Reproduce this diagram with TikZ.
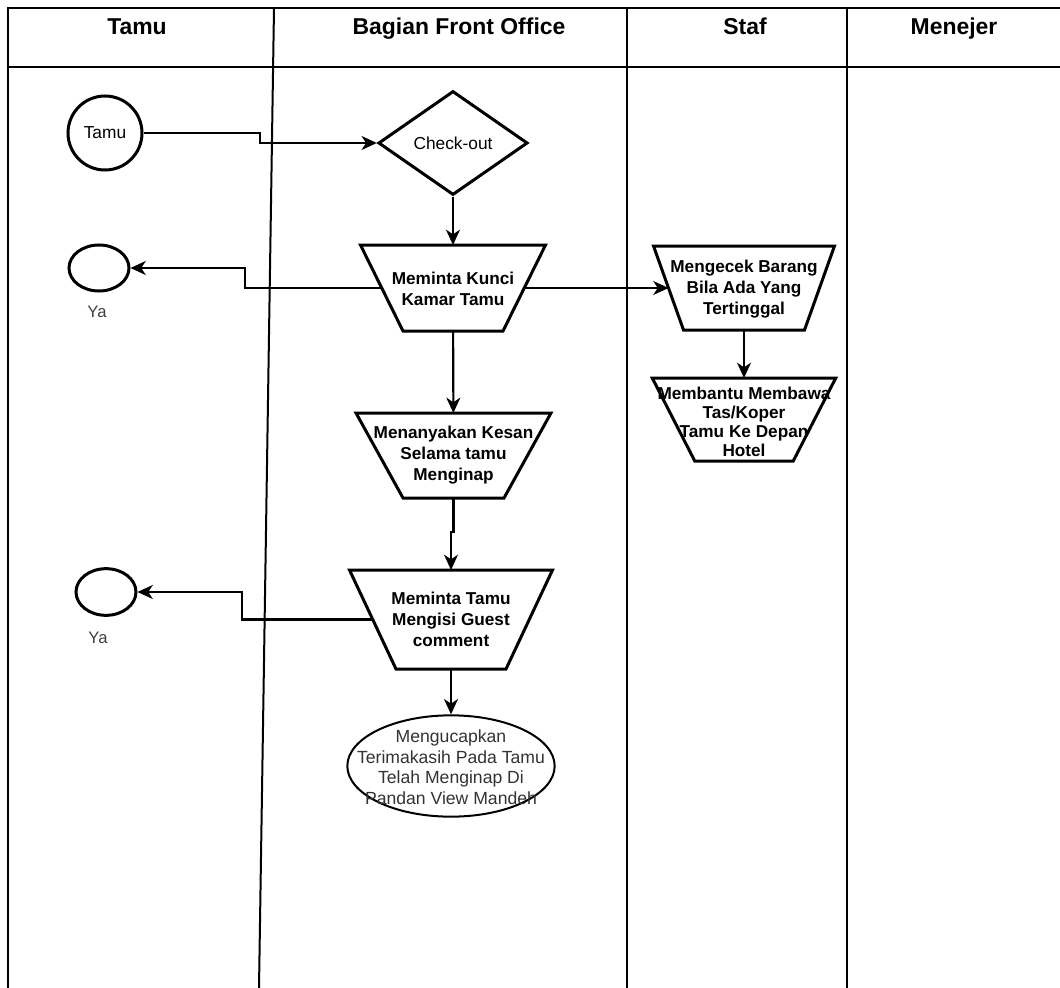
\documentclass[tikz,border=0pt]{standalone}
\usepackage{fontspec}
\setmainfont{Liberation Sans}
\usetikzlibrary{shapes.geometric,arrows.meta,calc}
% outline of an inverted trapezoid around node #1: the node box has the
% mid-height width, the top edge sticks out by #2 and the bottom edge is
% pulled in by #2 on each side
\newcommand\trapdraw[2]{%
  \draw[line width=2.25pt,line join=miter]
    ($(#1.north west)+(-#2,0)$) -- ($(#1.north east)+(#2,0)$) --
    ($(#1.south east)+(-#2,0)$) -- ($(#1.south west)+(#2,0)$) -- cycle;}
\begin{document}
\begin{tikzpicture}[x=0.75pt,y=-0.75pt,
  lane/.style={line width=1.5pt},
  arr/.style={line width=1.6pt,-{Stealth[length=11.5pt,width=10.5pt,inset=3.5pt]}},
  shp/.style={draw,line width=2.25pt,inner sep=0pt},
  trap/.style={rectangle,inner sep=0pt,outer sep=0pt},
  head/.style={font=\fontsize{17.2pt}{20pt}\selectfont\bfseries,inner sep=0pt,anchor=base},
  txtb/.style={font=\fontsize{12.9pt}{15.75pt}\selectfont\bfseries,align=center,inner sep=0pt},
  txt/.style={font=\fontsize{13pt}{15.6pt}\selectfont,align=center,inner sep=0pt},
  small/.style={font=\fontsize{12.5pt}{15pt}\selectfont,text=black!75,inner sep=0pt},
]
\fill[white] (0,0) rectangle (1060,988);
\useasboundingbox (0,0) rectangle (1060,988);

% swimlane frame
\draw[lane] (8,988) -- (8,8) -- (1060,8);
\draw[line width=2.2pt] (8,67) -- (1060,67);
\draw[lane] (274,8) -- (259,988);
\draw[lane] (627,8) -- (627,988);
\draw[lane] (847,8) -- (847,988);

% lane titles
\node[head] (h1) at (137,35) {Tamu};
\node[head] (h2) at (459,35) {Bagian Front Office};
\node[head] (h3) at (745,35) {Staf};
\node[head] (h4) at (954,35) {Menejer};

% guest lane
\node[shp,circle,minimum size=55.5pt] (tamu) at (105,133) {};
\node[txt] (tamu-t) at (tamu) {Tamu};
\node[shp,ellipse,minimum width=45pt,minimum height=34.5pt] (ya1) at (99,268) {};
\node[small] (ya1-t) at (97,312) {Ya};
\node[shp,ellipse,minimum width=45pt,minimum height=35pt] (ya2) at (106,592) {};
\node[small] (ya2-t) at (98,638) {Ya};

% front office lane
\node[shp,diamond,minimum width=112pt,minimum height=78pt] (chk) at (453,143) {};
\node[txt] (chk-t) at (chk) {Check-out};

\node[trap,minimum width=106.9pt,minimum height=64.5pt] (kunci) at (453,288) {};
\trapdraw{kunci}{21.25}
\node[txtb] (kunci-t) at (453,289) {Meminta Kunci\\Kamar Tamu};

\node[trap,minimum width=111pt,minimum height=63.75pt] (kesan) at (453.5,455.5) {};
\trapdraw{kesan}{23.5}
\node[txtb] (kesan-t) at (453.5,455) {Menanyakan Kesan\\Selama tamu\\Menginap};

\node[trap,minimum width=117.4pt,minimum height=74.25pt] (guest) at (451,619.5) {};
\trapdraw{guest}{23.25}
\node[txtb] (guest-t) at (451,619) {Meminta Tamu\\Mengisi Guest\\comment};

\node[draw,line width=1.5pt,ellipse,minimum width=155.5pt,minimum height=76pt,inner sep=0pt] (ucap) at (451,766) {};
\node[txt,font=\fontsize{13.2pt}{15.4pt}\selectfont,text=black!80] (ucap-t) at (451,767)
  {Mengucapkan\\Terimakasih Pada Tamu\\Telah Menginap Di\\Pandan View Mandeh};

% staff lane
\node[trap,minimum width=113.25pt,minimum height=63pt] (cek) at (744,288) {};
\trapdraw{cek}{15}
\node[txtb] (cek-t) at (744,289) {Mengecek Barang\\Bila Ada Yang\\Tertinggal};

\node[trap,minimum width=105.75pt,minimum height=62.25pt] (bantu) at (744,419.5) {};
\trapdraw{bantu}{21.25}
\node[txtb,font=\fontsize{12.9pt}{14.25pt}\selectfont\bfseries] (bantu-t) at (744,421.5)
  {Membantu Membawa\\Tas/Koper\\Tamu Ke Depan\\Hotel};

% bend points of the elbow connectors
\coordinate (b0) at (260,0);
\coordinate (b1) at (245,0);
\coordinate (b2) at (242,0);
\coordinate (j1) at (0,532);

% connectors
\draw[arr] (tamu) -- (tamu -| b0) -- (chk -| b0) -- (chk);
\draw[arr] (chk) -- (kunci);
\draw[arr] (kunci) -- (kunci -| b1) |- (ya1);
\draw[arr] (kunci) -- (cek);
\draw[arr] (cek) -- (bantu);
\draw[arr] (kunci) -- (kesan);
\draw[arr] (kesan) -- (kesan |- j1) -| (guest);
\draw[arr] (guest) -- (guest -| b2) |- (ya2);
\draw[arr] (guest) -- (ucap);
\end{tikzpicture}
\end{document}
